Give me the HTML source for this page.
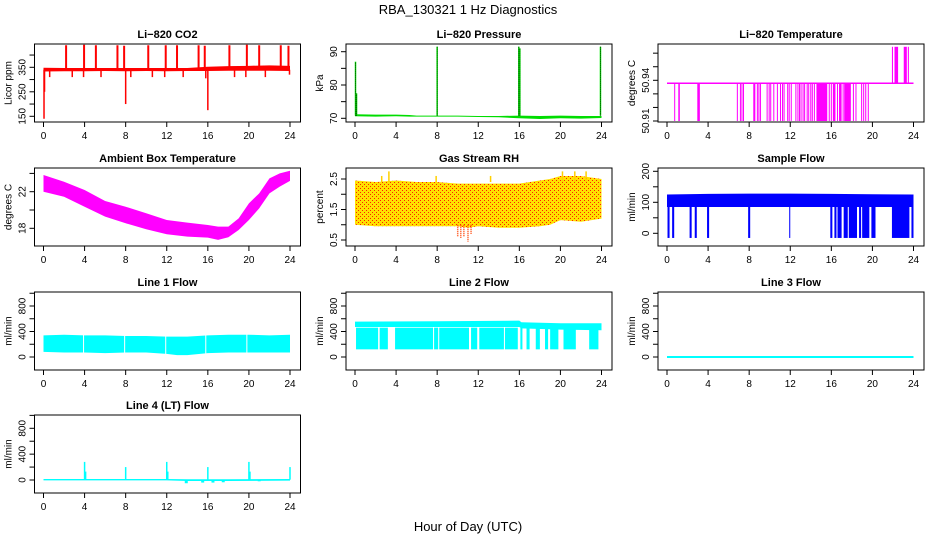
<!DOCTYPE html>
<html><head><meta charset="utf-8">
<style>
html,body{margin:0;padding:0;background:#fff;}
svg{display:block;font-family:"Liberation Sans",sans-serif;}
</style></head>
<body>
<svg id="chart" width="936" height="540" viewBox="0 0 936 540" xmlns="http://www.w3.org/2000/svg">
<defs>
<pattern id="rhpat" width="4" height="4" patternUnits="userSpaceOnUse">
<rect width="4" height="4" fill="#ffe000"/>
<rect x="0" y="0" width="1" height="1" fill="#ff2000"/>
<rect x="2" y="2" width="1" height="1" fill="#ff2000"/>
</pattern>
</defs>
<text x="468" y="14" text-anchor="middle" font-size="13">RBA_130321  1 Hz Diagnostics</text>
<text x="468" y="531" text-anchor="middle" font-size="13">Hour of Day (UTC)</text>
</svg>
<script>
// ---- data ----
const xTicks = [0,4,8,12,16,20,24];
const co2Hours = [0,2,4,6,8,10,12,14,16,18,20,22,24];
const co2Lo = [333,334,334,335,334,335,334,335,335,336,336,336,335];
const co2Hi = [348,347,347,347,347,347,347,347,352,355,356,358,356];
const co2SpikeHours = [2.2,3.95,5.1,7.2,7.85,10.2,11.9,13.0,15.1,15.7,18.1,19.8,21.0,23.1,23.85];
const co2SpikeVals = [440,442,440,440,438,440,440,440,440,438,440,442,440,440,438];
const co2DipHours = [0.05,0.1,8.0,16.0,0.6,2.8,3.9,5.6,8.5,10.6,11.8,13.6,15.8,18.6,19.7,21.6,23.95];
const co2DipVals = [140,250,200,175,310,310,310,310,310,310,310,310,305,310,310,310,320];

const presHours = [0,2,4,5.3,6,8,10,12,14,16,18,20,22,24];
const presLo = [70.6,70.5,70.6,70.5,70.5,70.5,70.5,70.4,70.3,70.0,69.8,70.0,69.9,70.1];
const presHi = [71.2,71.1,71.1,71.0,70.8,70.8,70.8,70.7,70.7,70.8,70.7,70.8,70.7,70.7];
const presSpikeHours = [0.05,0.15,8.0,15.95,16.05,23.9];
const presSpikeVals = [87,77.5,91.5,91.5,91,91.5];

const tempBase = 50.9378;
const tempDipValue = 50.91;
const tempDipStarts = [0.7,1.1,2.95,6.8,7.1,7.25,7.4,8.4,8.75,8.9,9.05,9.7,9.9,10.05,10.35,10.7,11.0,11.2,11.35,11.7,11.85,12.05,12.5,12.7,12.85,13.0,13.2,13.35,13.6,13.75,13.95,14.1,14.3,14.55,15.75,15.95,16.15,16.55,16.75,17.1,17.25,18.1,18.35,18.9,19.1,19.3,19.55];
const tempDipEnds = [0.75,1.25,3.2,6.9,7.15,7.3,7.45,8.6,8.8,8.95,9.1,9.75,9.95,10.1,10.4,10.75,11.05,11.25,11.4,11.75,11.9,12.1,12.55,12.75,12.9,13.1,13.25,13.45,13.65,13.8,14.0,14.15,14.35,15.6,15.8,16.0,16.4,16.6,17.0,17.15,17.9,18.15,18.4,19.0,19.15,19.4,19.6];
const tempUpValue = 50.9647;
const tempUpStarts = [21.9,22.15,23.05,23.45];
const tempUpEnds = [22.0,22.5,23.35,23.55];

const ambHours = [0,2,4,6,8,10,12,14,16,17,18,19,20,21,22,23,24];
const ambHi = [23.82,23.09,22.18,20.98,20.36,19.64,18.91,18.62,18.36,18.18,18.18,19.09,20.73,21.82,23.45,24.0,24.29];
const ambLo = [22.0,21.45,20.36,19.27,18.55,17.89,17.35,17.09,16.98,16.73,17.02,17.82,18.91,20.18,21.82,22.55,23.18];

const rhHours = [0,2,4,6,8,10,11,12,14,16,18,19,20,22,24];
const rhLo = [1.0,0.95,0.95,0.95,0.95,0.95,0.9,0.95,0.9,0.9,0.95,1.0,1.15,1.1,1.2];
const rhHi = [2.45,2.4,2.45,2.4,2.4,2.35,2.35,2.35,2.35,2.35,2.45,2.5,2.6,2.6,2.5];
const rhDipHours = [10.0,10.3,10.6,11.0,11.3];
const rhDipVals = [0.6,0.55,0.6,0.45,0.7];
const rhSpikeHours = [2.6,3.3,7.9,13.2,20.2,21.4,22.5];
const rhSpikeVals = [2.6,2.75,2.6,2.6,2.75,2.75,2.75];

const sfHours = [0,4,8,12,16,20,24];
const sfLo = [85,85,85,85,85,85,85];
const sfHi = [125,127,128,128,127,126,125];
const sfDipValue = -15;
const sfDipStarts = [0.05,0.5,2.2,2.7,3.9,7.9,11.9,15.9,16.3,16.6,17.2,17.7,18.7,19.0,19.9,21.9,23.8];
const sfDipEnds = [0.25,0.7,2.4,2.9,4.1,8.1,12.0,16.1,16.5,17.0,17.6,18.5,18.9,19.7,20.3,23.6,24.0];

const l1Hours = [0,2,4,6,8,10,12,13,14,16,18,20,22,24];
const l1Lo = [80,70,70,60,70,70,50,30,30,60,70,70,70,70];
const l1Hi = [340,350,340,340,330,330,320,320,320,340,350,350,340,350];
const l1GapHours = [3.9,7.9,11.9,15.8,19.8];

const l2Hours = [0,8,16,16.2,20,24];
const l2Lo = [470,470,470,450,430,420];
const l2Hi = [555,560,570,545,530,530];
const l2DipValue = 120;
const l2DipStarts = [0.1,2.4,3.9,7.7,8.2,11.3,12.1,14.6,16.1,16.7,17.6,18.5,19.0,20.3,22.8];
const l2DipEnds = [2.25,3.2,7.6,8.1,11.1,11.9,14.5,15.85,16.3,17.0,18.0,18.8,19.8,21.5,23.7];

const l3Hours = [0,24];
const l3Vals = [0,0];

const l4Hours = [0,6,12,14,18,24];
const l4Lo = [-5,-5,-5,-15,-15,-10];
const l4Hi = [15,15,15,12,12,15];
const l4SpikeHours = [4,4.1,8,12,12.1,16,20,20.1,24];
const l4SpikeVals = [280,130,200,280,130,200,280,130,200];
const l4DipHours = [13.9,15.5,16.5,17.5,21];
const l4DipVals = [-50,-40,-40,-35,-20];

// ---- helpers ----
const NS = 'http://www.w3.org/2000/svg';
const svg = document.getElementById('chart');
function mk(tag, attrs, parent){
  const e = document.createElementNS(NS, tag);
  for (const k in attrs) e.setAttribute(k, attrs[k]);
  (parent||svg).appendChild(e);
  return e;
}
const colL = [34.5,346,658];
const rowT = [44,168,292,415];
const BOXH = 78;
let clipN = 0;

function panel(col,row,title,ytitle,v1,p1,v2,p2,ticks,labels,nameKey){
  const L = colL[col], R = L + 266, T = rowT[row], B = T + BOXH;
  const x0 = L + 9, x24 = L + 255.5;
  const X = h => x0 + (x24 - x0) * h / 24;
  const Y = v => p1 + (p2 - p1) * (v - v1) / (v2 - v1);
  const g = mk('g', {});
  
  
  clipN++;
  const cp = mk('clipPath', {id:'cp'+clipN}, g);
  mk('rect', {x:L, y:T, width:R-L, height:BOXH}, cp);
  const plot = mk('g', {'clip-path':'url(#cp'+clipN+')'}, g);
  
  
  const box = mk('rect', {x:L, y:T, width:R-L, height:BOXH, fill:'none', stroke:'#000', 'stroke-width':1}, g);
  
  
  const t = mk('text', {x:(L+R)/2, y:T-6, 'text-anchor':'middle', 'font-size':11, 'font-weight':'bold'}, g);
  t.textContent = title;
  
  
  xTicks.forEach(h => {
    const tk = mk('line', {x1:X(h), x2:X(h), y1:B, y2:B+5, stroke:'#000'}, g);
    
    
    const lb = mk('text', {x:X(h), y:B+17, 'text-anchor':'middle', 'font-size':10}, g);
    lb.textContent = h;
    
    
  });
  ticks.forEach(v => {
    const yy = Y(v);
    const tk = mk('line', {x1:L-5, x2:L, y1:yy, y2:yy, stroke:'#000'}, g);
    
    
  });
  labels.forEach(v => {
    const yy = Y(v);
    const lb = mk('text', {x:L-9, y:yy, 'text-anchor':'middle', 'font-size':10, transform:'rotate(-90 '+(L-9)+' '+yy+')'}, g);
    lb.textContent = String(v);
    
    
  });
  const yt = mk('text', {x:L-23, y:(T+B)/2, 'text-anchor':'middle', 'font-size':10, transform:'rotate(-90 '+(L-23)+' '+((T+B)/2)+')'}, g);
  yt.textContent = ytitle;
  
  
  return {X, Y, plot};
}
function band(p, hours, lo, hi, fill, name){
  let pts = hours.map((h,i)=>p.X(h)+','+p.Y(hi[i]));
  for (let i=hours.length-1;i>=0;i--) pts.push(p.X(hours[i])+','+p.Y(lo[i]));
  const e = mk('polygon', {points:pts.join(' '), fill:fill}, p.plot);
  
  
}
function vline(p, h, v1, v2, color, w, name, dash){
  const a = {x1:p.X(h), x2:p.X(h), y1:p.Y(v1), y2:p.Y(v2), stroke:color, 'stroke-width':w};
  if (dash) a['stroke-dasharray'] = dash;
  const e = mk('line', a, p.plot);
  
  
}
function spanRect(p, h1, h2, v1, v2, fill, name){
  const ya = p.Y(v1), yb = p.Y(v2);
  const e = mk('rect', {x:p.X(h1), y:Math.min(ya,yb), width:Math.max(1, p.X(h2)-p.X(h1)), height:Math.abs(yb-ya), fill:fill}, p.plot);
  
  
}

// ---- CO2 ----
let p = panel(0,0,'Li\u2212820 CO2','Licor ppm',150,116.3,350,67.3,[150,200,250,300,350,400],[150,250,350],'co2');
band(p, co2Hours, co2Lo, co2Hi, '#ff0000', 'co2-band');
co2SpikeHours.forEach((h,i)=>vline(p,h,340,co2SpikeVals[i],'#ff0000',2,'co2-spike'));
co2DipHours.forEach((h,i)=>vline(p,h,340,co2DipVals[i],'#ff0000',1.5,'co2-dip'));

// ---- Pressure ----
p = panel(1,0,'Li\u2212820 Pressure','kPa',70,118.3,90,51.7,[70,75,80,85,90],[70,80,90],'pressure');
band(p, presHours, presLo, presHi, '#00dd00', 'pressure-band');
presSpikeHours.forEach((h,i)=>{
  vline(p,h,70.8,presSpikeVals[i],'#00ee00',1.5,'pressure-spike');
  vline(p,h,70.8,presSpikeVals[i],'#000',0.8,'pressure-spike-dots','1 1');
});

// ---- Li-820 Temperature ----
p = panel(2,0,'Li\u2212820 Temperature','degrees C',50.91,121,50.94,80.3,[50.91,50.92,50.93,50.94,50.95,50.96],[50.91,50.94],'li820-temp');
const tb = mk('line',{x1:p.X(0),x2:p.X(24),y1:p.Y(tempBase),y2:p.Y(tempBase),stroke:'#ff00ff','stroke-width':1.5},p.plot);


tempDipStarts.forEach((s,i)=>spanRect(p,s,tempDipEnds[i],tempBase,tempDipValue,'#ff00ff','li820-temp-dip'));
tempUpStarts.forEach((s,i)=>spanRect(p,s,tempUpEnds[i],tempBase,tempUpValue,'#ff00ff','li820-temp-rise'));

// ---- Ambient ----
p = panel(0,1,'Ambient Box Temperature','degrees C',18,228.3,22,191.7,[18,20,22,24],[18,22],'ambient-temp');
band(p, ambHours, ambLo, ambHi, '#ff00ff', 'ambient-temp-band');

// ---- RH ----
p = panel(1,1,'Gas Stream RH','percent',0.5,240,2.5,179,[0.5,1,1.5,2,2.5],[0.5,1.5,2.5],'rh');
band(p, rhHours, rhLo, rhHi, 'url(#rhpat)', 'rh-band');
rhDipHours.forEach((h,i)=>vline(p,h,1.0,rhDipVals[i],'#ff4000',1.5,'rh-dip','1 1'));
rhSpikeHours.forEach((h,i)=>vline(p,h,2.4,rhSpikeVals[i],'#ffd000',1.5,'rh-spike'));

// ---- Sample Flow ----
p = panel(2,1,'Sample Flow','ml/min',0,233.3,200,171.3,[0,50,100,150,200],[0,100,200],'sample-flow');
band(p, sfHours, sfLo, sfHi, '#0000ff', 'sample-flow-band');
sfDipStarts.forEach((s,i)=>spanRect(p,s,sfDipEnds[i],90,sfDipValue,'#0000ff','sample-flow-dip'));

// ---- Line flows ----
const flowTicks = [0,200,400,600,800,1000];
const flowLabels = [0,400,800];
p = panel(0,2,'Line 1 Flow','ml/min',0,357,800,306,flowTicks,flowLabels,'line1-flow');
band(p, l1Hours, l1Lo, l1Hi, '#00ffff', 'line1-flow-band');
l1GapHours.forEach(h=>vline(p,h,20,400,'#fff',1,'line1-flow-gap'));

p = panel(1,2,'Line 2 Flow','ml/min',0,357,800,306,flowTicks,flowLabels,'line2-flow');
band(p, l2Hours, l2Lo, l2Hi, '#00ffff', 'line2-flow-band');
l2DipStarts.forEach((s,i)=>spanRect(p,s,l2DipEnds[i],460,l2DipValue,'#00ffff','line2-flow-dip'));

p = panel(2,2,'Line 3 Flow','ml/min',0,357,800,306,flowTicks,flowLabels,'line3-flow');
const l3 = mk('polyline',{points:l3Hours.map((h,i)=>p.X(h)+','+p.Y(l3Vals[i])).join(' '),fill:'none',stroke:'#00ffff','stroke-width':2},p.plot);



p = panel(0,3,'Line 4 (LT) Flow','ml/min',0,480,800,428.3,flowTicks,flowLabels,'line4-flow');
band(p, l4Hours, l4Lo, l4Hi, '#00ffff', 'line4-flow-band');
l4SpikeHours.forEach((h,i)=>vline(p,h,5,l4SpikeVals[i],'#00ffff',1.5,'line4-flow-spike'));
l4DipHours.forEach((h,i)=>vline(p,h,0,l4DipVals[i],'#00ffff',3,'line4-flow-dip'));
</script>
</body></html>
